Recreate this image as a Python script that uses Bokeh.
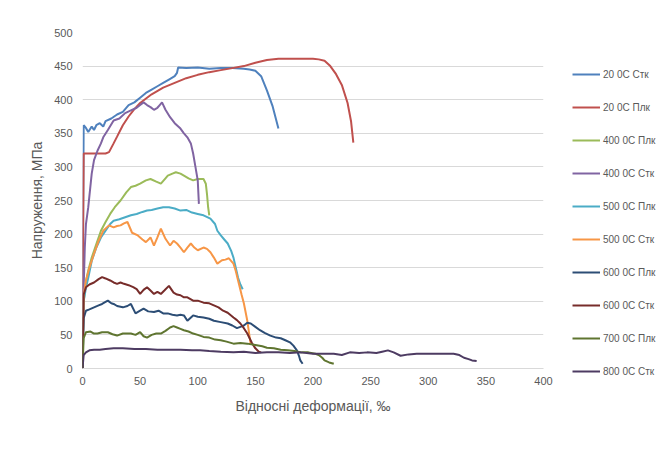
from bokeh.plotting import figure
from bokeh.models import Legend, LegendItem, Range1d, FixedTicker
from bokeh.embed import file_html
from bokeh.resources import INLINE

# ---- data ----
names = ["20 0С Стк", "20 0С Плк", "400 0С Плк", "400 0С Стк", "500 0С Плк",
         "500 0С Стк", "600 0С Плк", "600 0С Стк", "700 0С Плк", "800 0С Стк"]
colors = ["#4F81BD", "#C0504D", "#9BBB59", "#8064A2", "#4BACC6",
          "#F79646", "#2C4D75", "#772C2A", "#5F7530", "#4D3B62"]

x_20_stk = [0, 0.5, 1, 3, 5, 8, 10, 12, 15, 18, 20, 25, 30, 35, 40, 45, 50, 55, 60, 65, 70, 75, 80, 82, 83,
            90, 100, 110, 120, 130, 140, 145, 150, 155, 160, 165, 170]
y_20_stk = [0, 200, 362, 358, 352, 360, 355, 362, 365, 360, 368, 372, 378, 382, 392, 396, 403, 410, 415, 420,
            425, 430, 435, 440, 448, 447, 448, 446, 447, 447, 446, 445, 443, 435, 414, 390, 357]

x_20_plk = [0, 0.5, 1, 5, 10, 15, 20, 23, 27, 30, 35, 40, 45, 50, 60, 70, 80, 90, 100, 110, 120, 130, 140,
            150, 160, 170, 180, 190, 200, 205, 210, 215, 220, 225, 230, 233, 235]
y_20_plk = [0, 200, 320, 320, 320, 320, 320, 322, 335, 345, 362, 375, 386, 395, 408, 418, 425, 432, 437, 441,
            444, 447, 450, 455, 459, 461, 461, 461, 461, 460, 458, 450, 438, 422, 395, 368, 336]

x_400_plk = [0, 1, 3, 5, 8, 12, 16, 20, 24, 28, 33, 38, 42, 46, 50, 55, 59, 64, 68, 72, 74, 78, 81, 85, 88,
             92, 96, 100, 105, 107, 108, 109, 110]
y_400_plk = [0, 100, 130, 146, 165, 185, 205, 218, 230, 240, 250, 262, 270, 272, 275, 280, 282, 278, 275, 283,
             287, 290, 292, 290, 287, 283, 280, 282, 282, 275, 260, 240, 228]

x_400_stk = [0, 1, 2, 3, 5, 8, 10, 13, 16, 18, 22, 27, 32, 37, 42, 47, 50, 53, 56, 59, 62, 65, 67, 69, 72,
             76, 80, 85, 88, 91, 94, 96, 98, 100, 101]
y_400_stk = [0, 120, 180, 215, 240, 290, 310, 324, 335, 344, 355, 369, 372, 380, 384, 388, 392, 396, 392, 389,
             385, 388, 392, 396, 385, 374, 365, 357, 350, 344, 335, 320, 300, 280, 245]

x_500_plk = [0, 1, 3, 5, 8, 12, 16, 20, 24, 27, 32, 37, 42, 47, 52, 56, 60, 65, 70, 75, 80, 85, 90, 95, 100,
             105, 111, 115, 117, 120, 123, 126, 129, 131, 133, 135, 137, 139]
y_500_plk = [0, 100, 120, 135, 160, 180, 195, 205, 215, 220, 222, 225, 228, 230, 233, 235, 236, 238, 240, 240,
             238, 235, 236, 232, 230, 228, 223, 215, 205, 198, 192, 186, 175, 165, 150, 135, 125, 118]

x_500_stk = [0, 1, 3, 6, 10, 14, 18, 23, 27, 30, 33, 36, 39, 43, 48, 52, 55, 59, 62, 65, 68, 72, 76, 79, 82,
             85, 88, 91, 94, 97, 100, 105, 108, 111, 114, 117, 121, 124, 127, 131, 133, 135, 138, 140, 143, 146]
y_500_stk = [0, 110, 131, 150, 171, 190, 205, 213, 210, 212, 213, 216, 218, 202, 198, 192, 188, 195, 183, 195,
             208, 193, 183, 190, 186, 180, 173, 180, 186, 180, 176, 180, 178, 173, 165, 156, 161, 162, 164, 156,
             145, 131, 110, 97, 71, 35]

x_600_plk = [0, 1, 3, 6, 10, 14, 17, 20, 22, 25, 27, 30, 35, 39, 42, 46, 50, 53, 57, 62, 66, 70, 74, 78, 82,
             85, 88, 91, 96, 100, 105, 110, 114, 120, 126, 130, 134, 137, 140, 143, 146, 150, 154, 158, 163,
             168, 172, 176, 180, 183, 186, 188, 189, 191]
y_600_plk = [0, 75, 86, 88, 91, 94, 96, 99, 101, 97, 96, 93, 91, 93, 96, 82, 86, 89, 85, 84, 86, 82, 82, 80,
             79, 80, 79, 71, 79, 77, 76, 74, 71, 69, 67, 64, 60, 62, 64, 68, 67, 62, 57, 53, 49, 46, 45, 42, 39,
             34, 27, 18, 12, 7]

x_600_stk = [0, 1, 3, 6, 10, 14, 17, 20, 24, 27, 30, 33, 36, 40, 44, 47, 50, 53, 56, 59, 62, 65, 68, 71, 75,
             79, 82, 85, 88, 91, 96, 100, 105, 110, 114, 118, 122, 126, 131, 134, 137, 140, 143, 147, 150, 153,
             155]
y_600_stk = [0, 110, 121, 125, 128, 133, 136, 134, 131, 128, 126, 128, 126, 124, 121, 118, 111, 117, 121, 116,
             111, 114, 111, 116, 123, 113, 110, 109, 106, 106, 101, 101, 98, 97, 94, 91, 86, 83, 76, 72, 67, 60,
             52, 38, 30, 25, 24]

x_700_plk = [0, 1, 3, 7, 10, 13, 17, 22, 26, 30, 35, 42, 46, 50, 53, 56, 60, 64, 68, 72, 76, 79, 82, 85, 88,
             92, 96, 100, 105, 110, 115, 120, 125, 131, 137, 143, 150, 156, 160, 166, 172, 178, 184, 190, 196,
             202, 205, 208, 210, 214, 218]
y_700_plk = [0, 45, 54, 55, 52, 52, 54, 54, 51, 49, 52, 52, 50, 54, 48, 46, 50, 52, 52, 56, 61, 63, 61, 59, 57,
             55, 52, 50, 47, 46, 43, 42, 40, 37, 38, 37, 35, 33, 31, 30, 28, 27, 26, 24, 24, 22, 20, 16, 12, 9, 7]

x_800_stk = [0, 1, 3, 6, 10, 15, 20, 27, 35, 45, 55, 65, 75, 85, 95, 102, 110, 120, 131, 140, 150, 160, 170,
             180, 189, 200, 210, 218, 225, 232, 240, 247, 255, 260, 265, 270, 276, 283, 290, 298, 305, 315, 322,
             327, 331, 335, 338, 342]
y_800_stk = [0, 20, 24, 27, 28, 28, 29, 30, 30, 29, 29, 28, 28, 28, 27, 27, 26, 25, 24, 25, 23, 24, 24, 23, 24,
             22, 22, 22, 20, 24, 23, 24, 23, 25, 27, 24, 19, 21, 22, 22, 22, 22, 22, 20, 16, 14, 12, 11]

series_x = [x_20_stk, x_20_plk, x_400_plk, x_400_stk, x_500_plk, x_500_stk, x_600_plk, x_600_stk, x_700_plk, x_800_stk]
series_y = [y_20_stk, y_20_plk, y_400_plk, y_400_stk, y_500_plk, y_500_stk, y_600_plk, y_600_stk, y_700_plk, y_800_stk]

x_ticks = [0, 50, 100, 150, 200, 250, 300, 350, 400]
y_ticks = [0, 50, 100, 150, 200, 250, 300, 350, 400, 450, 500]

FONT = "Liberation Sans"
GRAY = "#595959"

p = figure(frame_width=461, frame_height=336, output_backend="svg", toolbar_location=None,
           x_range=Range1d(0, 400), y_range=Range1d(0, 500),
           min_border_left=82, min_border_right=121, min_border_top=32, min_border_bottom=94)
p.outline_line_color = None
p.xgrid.grid_line_color = None
p.ygrid.grid_line_color = "#d9d9d9"
p.ygrid.grid_line_width = 1

p.xaxis.ticker = FixedTicker(ticks=x_ticks)
p.yaxis.ticker = FixedTicker(ticks=y_ticks)
for ax in (p.xaxis, p.yaxis):
    ax.major_tick_line_color = None
    ax.minor_tick_line_color = None
    ax.major_tick_out = 0
    ax.major_tick_in = 0
    ax.major_label_text_font = FONT
    ax.major_label_text_font_size = "11px"
    ax.major_label_text_color = GRAY
    ax.axis_label_text_font = FONT
    ax.axis_label_text_font_size = "14px"
    ax.axis_label_text_font_style = "normal"
    ax.axis_label_text_color = GRAY
p.xaxis.axis_line_color = "#d9d9d9"
p.yaxis.axis_line_color = None
p.xaxis.major_label_standoff = 8
p.yaxis.major_label_standoff = 10
p.xaxis.axis_label = "Відносні деформації, ‰"
p.yaxis.axis_label = "Напруження, МПа"
p.xaxis.axis_label_standoff = 10
p.yaxis.axis_label_standoff = 6

items = []
for nm, c, xs, ys in zip(names, colors, series_x, series_y):
    r = p.line(xs, ys, line_color=c, line_width=2)
    items.append(LegendItem(label=nm, renderers=[r]))

legend = Legend(items=items, location=(29, -13), margin=0, padding=0,
                spacing=13, glyph_width=28, glyph_height=20, label_height=20,
                label_standoff=3, label_text_font=FONT, label_text_font_size="10px",
                label_text_color=GRAY, border_line_color=None, background_fill_alpha=0)
p.add_layout(legend, "right")

open("out.html", "w").write(file_html(p, INLINE))
